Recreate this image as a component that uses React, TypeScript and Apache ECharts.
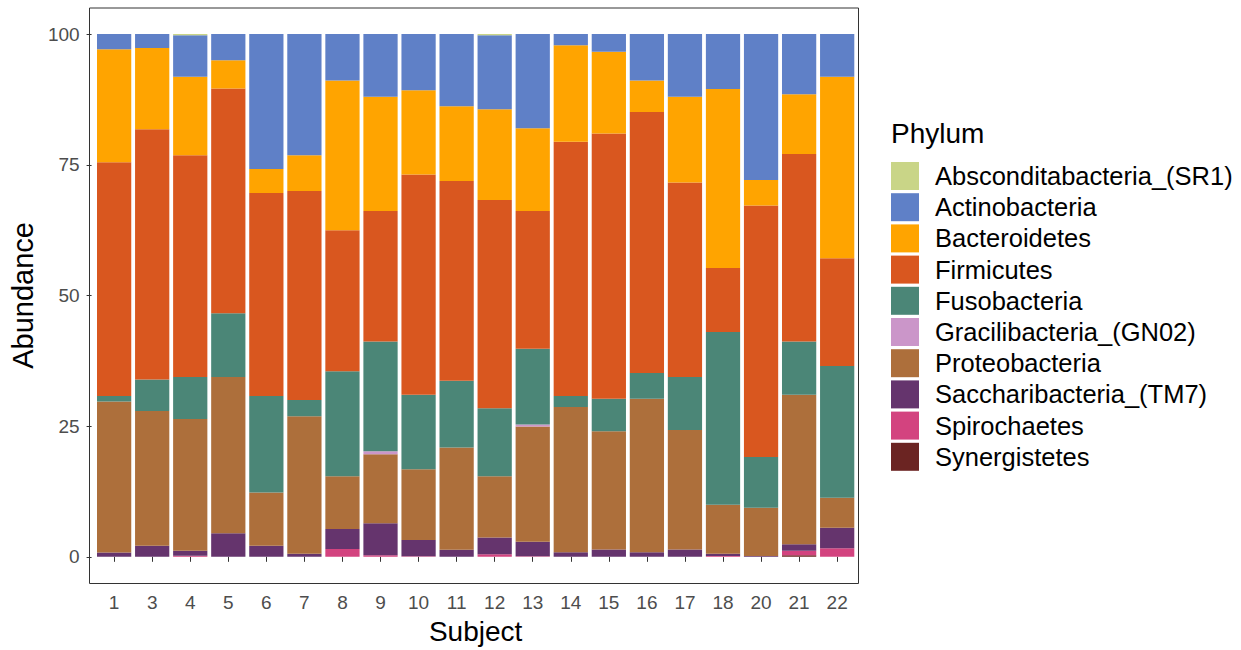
import React, { useEffect, useRef } from 'react';
import * as echarts from 'echarts';

const subjects = ['1', '3', '4', '5', '6', '7', '8', '9', '10', '11', '12', '13', '14', '15', '16', '17', '18', '20', '21', '22'];

const absconditabacteria = [0, 0, 0.2, 0, 0, 0, 0, 0, 0, 0, 0.2, 0, 0, 0, 0, 0, 0, 0, 0, 0];
const actinobacteria = [2.9, 2.65, 7.95, 5.0, 25.8, 23.2, 8.9, 12.0, 10.75, 13.8, 14.2, 18.0, 2.15, 3.4, 8.9, 12.0, 10.5, 27.9, 11.5, 8.15];
const bacteroidetes = [21.6, 15.55, 15.05, 5.4, 4.6, 6.8, 28.65, 21.85, 16.1, 14.3, 17.35, 15.85, 18.45, 15.6, 6.0, 16.4, 34.25, 4.9, 11.45, 34.75];
const firmicutes = [44.75, 47.9, 42.4, 43.0, 38.85, 40.0, 26.95, 24.95, 42.15, 38.2, 39.85, 26.35, 48.65, 50.75, 49.95, 37.2, 12.25, 48.1, 35.85, 20.6];
const fusobacteria = [1.05, 6.0, 8.05, 12.2, 18.45, 3.1, 20.1, 21.0, 14.25, 12.8, 13.0, 14.5, 2.1, 6.25, 4.9, 10.15, 33.05, 9.7, 10.2, 25.2];
const gracilibacteria = [0, 0, 0, 0, 0, 0, 0, 0.6, 0, 0, 0, 0.35, 0, 0, 0, 0, 0, 0, 0, 0];
const proteobacteria = [28.9, 25.8, 25.2, 29.9, 10.2, 26.3, 10.1, 13.2, 13.55, 19.55, 11.7, 22.05, 27.8, 22.6, 29.4, 22.85, 9.35, 9.25, 28.6, 5.75];
const saccharibacteria = [0.8, 2.1, 0.95, 4.5, 2.1, 0.6, 3.8, 6.1, 3.1, 1.35, 3.2, 2.8, 0.85, 1.4, 0.85, 1.4, 0.45, 0.15, 1.25, 3.9];
const spirochaetes = [0, 0, 0.2, 0, 0, 0, 1.5, 0.3, 0.1, 0, 0.5, 0.1, 0, 0, 0, 0, 0.15, 0, 0.85, 1.65];
const synergistetes = [0, 0, 0, 0, 0, 0, 0, 0, 0, 0, 0, 0, 0, 0, 0, 0, 0, 0, 0.3, 0];

const yTicks = [0, 25, 50, 75, 100];

// legend order (top to bottom); stacked in reverse (last one at the bottom)
const phyla = [
  { name: 'Absconditabacteria_(SR1)', color: '#C9D587', data: absconditabacteria },
  { name: 'Actinobacteria', color: '#5F80C7', data: actinobacteria },
  { name: 'Bacteroidetes', color: '#FFA400', data: bacteroidetes },
  { name: 'Firmicutes', color: '#D9571F', data: firmicutes },
  { name: 'Fusobacteria', color: '#4B8677', data: fusobacteria },
  { name: 'Gracilibacteria_(GN02)', color: '#CB96C9', data: gracilibacteria },
  { name: 'Proteobacteria', color: '#AD6F3B', data: proteobacteria },
  { name: 'Saccharibacteria_(TM7)', color: '#65346D', data: saccharibacteria },
  { name: 'Spirochaetes', color: '#D3437F', data: spirochaetes },
  { name: 'Synergistetes', color: '#6B2422', data: synergistetes },
];

const FONT = "'Liberation Sans', Arial, Helvetica, sans-serif";

export default function App() {
  const ref = useRef<HTMLDivElement>(null);

  useEffect(() => {
    if (!ref.current) return;
    const chart = echarts.init(ref.current, null, { renderer: 'svg' });
    const stackOrder = [...phyla].reverse();
    chart.setOption({
      animation: false,
      backgroundColor: '#ffffff',
      textStyle: { fontFamily: FONT },
      title: {
        text: 'Phylum',
        left: 891,
        top: 119,
        padding: 0,
        textStyle: { fontFamily: FONT, fontSize: 28, fontWeight: 'normal', color: '#000000' },
      },
      legend: {
        orient: 'vertical',
        left: 891,
        top: 162,
        padding: 0,
        icon: 'rect',
        itemWidth: 28,
        itemHeight: 28,
        itemGap: 3.2,
        data: phyla.map((p) => p.name),
        textStyle: { fontFamily: FONT, fontSize: 25.5, color: '#000000', padding: [0, 0, 0, 11], lineHeight: 28 },
        selectedMode: false,
      },
      grid: { left: 93, top: 34.1, width: 763.2, height: 523.6 },
      xAxis: {
        type: 'category',
        data: subjects,
        offset: 26.3,
        axisLine: { show: false },
        axisTick: { show: true, alignWithLabel: true, length: 5, lineStyle: { color: '#333333', width: 1 } },
        axisLabel: { fontFamily: FONT, fontSize: 19, color: '#4D4D4D', margin: 10 },
        name: 'Subject',
        nameLocation: 'middle',
        nameGap: 32,
        nameTextStyle: { fontFamily: FONT, fontSize: 28, color: '#000000' },
        splitLine: { show: false },
      },
      yAxis: {
        type: 'value',
        min: yTicks[0],
        max: yTicks[yTicks.length - 1],
        interval: 25,
        offset: 3.5,
        axisLine: { show: false },
        axisTick: { show: true, length: 5, lineStyle: { color: '#333333', width: 1 } },
        axisLabel: { fontFamily: FONT, fontSize: 19, color: '#4D4D4D', margin: 12 },
        splitLine: { show: false },
        name: 'Abundance',
        nameLocation: 'middle',
        nameRotate: 90,
        nameGap: 49,
        nameTextStyle: { fontFamily: FONT, fontSize: 29, color: '#000000' },
      },
      graphic: [
        {
          type: 'rect',
          shape: { x: 89.5, y: 8, width: 769, height: 575.5 },
          style: { fill: 'none', stroke: '#333333', lineWidth: 1 },
          silent: true,
          z: 10,
        },
      ],
      series: stackOrder.map((p) => ({
        type: 'bar',
        name: p.name,
        stack: 'total',
        data: p.data,
        barCategoryGap: '10%',
        itemStyle: { color: p.color },
        emphasis: { disabled: true },
      })),
    });
    return () => chart.dispose();
  }, []);

  return <div ref={ref} style={{ position: 'absolute', left: 0, top: 0, width: 1241, height: 650 }} />;
}
